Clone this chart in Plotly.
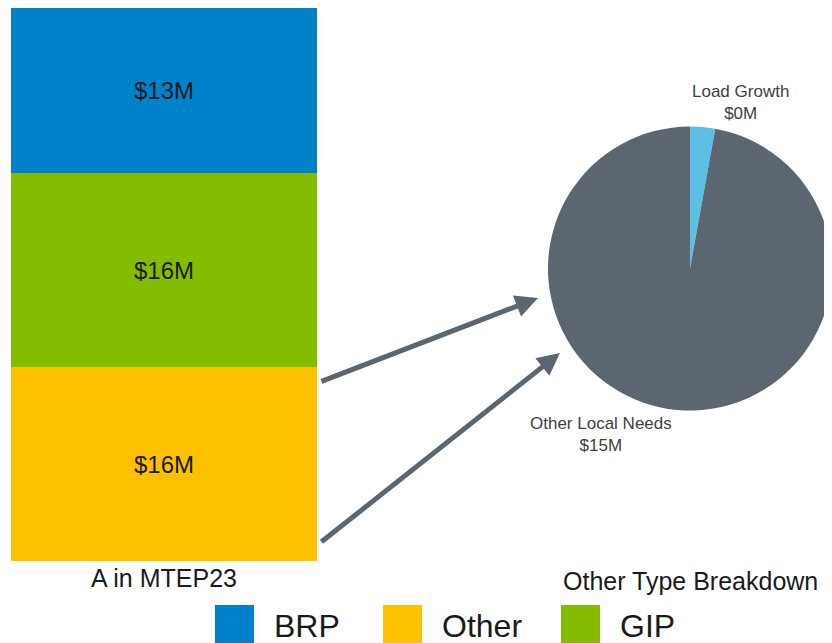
import plotly.graph_objects as go

# ---- data ----
bar_category = ["A in MTEP23"]
bar_series = ["Other", "GIP", "BRP"]          # bottom -> top
bar_values = [15.8, 15.8, 13.4]               # $M
bar_colors = ["#FFC000", "#84BD00", "#0082CA"]

pie_labels = ["Load Growth", "Other Local Needs"]
pie_values = [0.45, 15.35]                    # $M
pie_colors = ["#5BC0E3", "#5B6670"]

legend_order = ["BRP", "Other", "GIP"]
legend_colors = {"BRP": "#0082CA", "Other": "#FFC000", "GIP": "#84BD00"}

OFF = 8                      # page body margin
W, H = 832 - OFF, 643 - OFF
FONT = "Liberation Sans, Arial, sans-serif"

# screen pixel -> paper fraction
px = lambda x: (x - OFF) / W
py = lambda y: 1 - (y - OFF) / H

fig = go.Figure()

for name, val, col in zip(bar_series, bar_values, bar_colors):
    fig.add_trace(go.Bar(
        x=bar_category, y=[val], name=name,
        marker=dict(color=col, line=dict(width=0)),
        text=[f"${round(val)}M"], textposition="inside",
        insidetextanchor="middle", textangle=0,
        textfont=dict(size=24, color="#1a1a1a", family=FONT),
        showlegend=False, hoverinfo="skip",
    ))

fig.add_trace(go.Pie(
    labels=pie_labels, values=pie_values, sort=False,
    direction="clockwise", rotation=0,
    marker=dict(colors=pie_colors, line=dict(width=0)),
    textinfo="none", showlegend=False, hoverinfo="skip",
    domain=dict(x=[px(690 - 142), 1.0],
                y=[py(268.5 + 142), py(268.5 - 142)]),
))

fig.update_layout(
    width=W, height=H, barmode="stack", bargap=0,
    margin=dict(l=0, r=0, t=0, b=0),
    paper_bgcolor="white", plot_bgcolor="white",
    font=dict(family=FONT),
    xaxis=dict(domain=[px(11), px(317)], showgrid=False, zeroline=False,
               showline=False, ticks="", tickfont=dict(size=25, color="#1a1a1a")),
    yaxis=dict(domain=[py(561), py(8)], range=[0, sum(bar_values)],
               visible=False, showgrid=False),
)

annotations = []
# pie labels
annotations.append(dict(x=px(740), y=py(102), xref="paper", yref="paper",
                        xanchor="center", yanchor="middle",
                        text=f"{pie_labels[0]}<br>${round(pie_values[0])}M",
                        showarrow=False, font=dict(size=17, color="#404040"),
                        align="center"))
annotations.append(dict(x=px(601), y=py(434), xref="paper", yref="paper",
                        xanchor="center", yanchor="middle",
                        text=f"{pie_labels[1]}<br>${round(pie_values[1])}M",
                        showarrow=False, font=dict(size=17, color="#404040"),
                        align="center"))
# pie title
annotations.append(dict(x=px(690), y=py(581), xref="paper", yref="paper",
                        xanchor="center", yanchor="middle",
                        text="Other Type Breakdown", showarrow=False,
                        font=dict(size=25, color="#1a1a1a")))
# arrows
for (x0, y0, x1, y1) in [(320, 382, 538, 298), (320, 543, 560, 353)]:
    annotations.append(dict(x=px(x1), y=py(y1), xref="paper", yref="paper",
                            ax=x0 - x1, ay=y0 - y1, axref="pixel", ayref="pixel",
                            showarrow=True, arrowhead=2, arrowsize=0.9,
                            arrowwidth=5, arrowcolor="#5B6670", text=""))

# manual legend
shapes = []
sq_x = {"BRP": 215, "Other": 383, "GIP": 561}
for name in legend_order:
    x0 = sq_x[name]
    shapes.append(dict(type="rect", xref="paper", yref="paper",
                       x0=px(x0), x1=px(x0 + 39), y0=py(644), y1=py(605),
                       fillcolor=legend_colors[name], line=dict(width=0)))
    annotations.append(dict(x=px(x0 + 57), y=py(626), xref="paper", yref="paper",
                            text=name, showarrow=False,
                            xanchor="left", yanchor="middle",
                            font=dict(size=32, color="#1a1a1a")))

fig.update_layout(annotations=annotations, shapes=shapes)
fig.write_html("out.html")
